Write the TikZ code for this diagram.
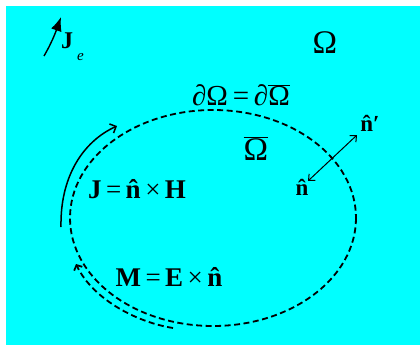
\documentclass[tikz,border=0pt]{standalone}
\usepackage{fontspec}
\setmainfont{Liberation Serif}
\usetikzlibrary{arrows.meta}
\definecolor{bg}{RGB}{0,255,255}
\newcommand{\nhatb}{\ooalign{\textbf{n}\cr\hidewidth\textbf{ˆ}\hidewidth\cr}}
\tikzset{
  dash line/.style={line width=1.8pt, dash pattern=on 6pt off 3.5pt},
  lbl/.style={inner sep=0pt, anchor=center},
}
\begin{document}
\begin{tikzpicture}[x=1pt,y=-1pt]
\useasboundingbox (0,0) rectangle (420,345);
\fill[bg] (6,6) rectangle (420,345);
% boundary
\draw[dash line] (213,218) ellipse [x radius=143, y radius=108];
% labels
\node[lbl, font=\fontsize{33}{35}\selectfont] (omega) at (325,43) {Ω};
\node[lbl, font=\fontsize{29}{31}\selectfont] (bnd) at (241,95) {∂Ω\,=\,∂$\overline{\mbox{Ω}}$};
\node[lbl, font=\fontsize{33}{35}\selectfont] (omegabar) at (256,149) {$\overline{\mbox{Ω}}$};
\node[lbl, font=\fontsize{23}{25}\selectfont] (nprime) at (370,124) {\nhatb\textbf{′}};
\node[lbl, font=\fontsize{23}{25}\selectfont] (n) at (302,190) {\nhatb};
\node[lbl, font=\fontsize{27}{29}\selectfont] (jeq) at (137,190) {\textbf{J}\,=\,\nhatb\,×\,\textbf{H}};
\node[lbl, font=\fontsize{27}{29}\selectfont] (meq) at (169,278) {\textbf{M}\,=\,\textbf{E}\,×\,\nhatb};
\node[lbl, font=\fontsize{24}{26}\selectfont, anchor=north west] (je) at (61,33) {\textbf{J}\hspace{4pt}\raisebox{-12pt}{\fontsize{15}{16}\selectfont\itshape e}};
% arrows
\coordinate (jeA) at (44,56);
\coordinate (jeB) at (61,17);
\draw[line width=1.4pt, -{Latex[length=14pt,width=11pt]}] (jeA) .. controls (51,44) and (55,34) .. (jeB);
\draw[line width=1.5pt, -{Straight Barb[length=5pt,width=10pt]}] (61,227) .. controls (60,178) and (82,142) .. (117,126);
\draw[dash line, -{Straight Barb[length=4pt,width=9pt]}] (173,328) .. controls (135,322) and (92,298) .. (76,264);
\draw[line width=1pt, {Straight Barb[length=5pt,width=9pt]}-{Straight Barb[length=5pt,width=9pt]}] (308,181) -- (357,135);
\end{tikzpicture}
\end{document}
